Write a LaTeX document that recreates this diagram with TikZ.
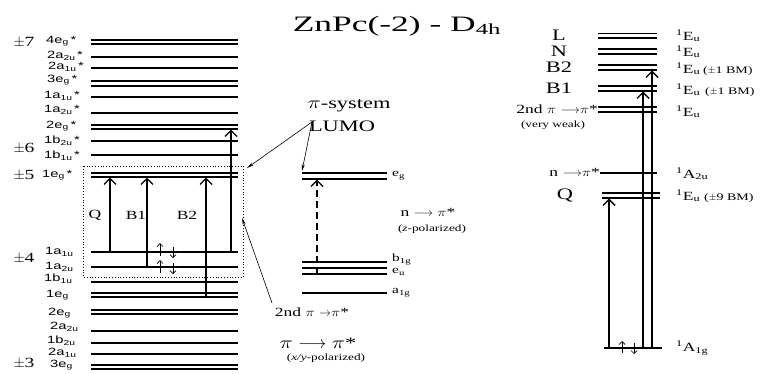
\documentclass[tikz,border=0pt]{standalone}
\usepackage{fontspec}
\setmainfont{Liberation Serif}[FakeStretch=1.4]
\setsansfont{Liberation Sans}[FakeStretch=1.4]
\usetikzlibrary{arrows.meta}
\newcommand{\ppi}{\scalebox{1.3}[1]{$\pi$}}
\begin{document}
\begin{tikzpicture}[x=1pt,y=-1pt,
 lvl/.style={line width=1.3pt},
 trans/.style={line width=1.8pt,-{Straight Barb[length=6pt,width=12pt,line width=1.4pt]}},
 dtrans/.style={trans,dash pattern=on 7pt off 4pt},
 spin/.style={line width=0.8pt,-{Straight Barb[length=3pt,width=6pt,line width=0.7pt]}},
 thin/.style={line width=0.6pt,-{Stealth[length=7pt,width=3pt]}},
 orb/.style={font=\sffamily\fontsize{10.5}{10.5}\selectfont,anchor=west,inner sep=0pt},
 pm/.style={font=\fontsize{14}{14}\selectfont,inner sep=0pt},
 mlab/.style={font=\fontsize{11}{11}\selectfont,anchor=west,inner sep=0pt},
 rlab/.style={font=\fontsize{12.5}{12.5}\selectfont,anchor=west,inner sep=0pt},
 big/.style={font=\fontsize{16}{16}\selectfont,inner sep=0pt},
 txt/.style={font=\fontsize{12.5}{12.5}\selectfont,inner sep=0pt},
 small/.style={font=\fontsize{9.5}{9.5}\selectfont,inner sep=0pt}
]
\useasboundingbox (0,0) rectangle (770,373);

% title
\node[inner sep=0pt] (title) at (397,26) {\scalebox{1.15}[1]{\fontsize{22}{22}\selectfont ZnPc(-2) - D\textsubscript{4h}}};

% ---------- left column levels ----------
\foreach \y in {40,44,57,68,81,86,97,113,125,129,141,155,173,177,252,267,282,293,297,310,314,331,343,354,365,369}
  \draw[lvl] (91,\y) -- (238,\y);

% dotted box
\draw[line width=0.8pt,dotted] (83,166) rectangle (243,277);
\coordinate (boxL) at (247,168);
\coordinate (boxR) at (242,218);

% left labels
\node[pm] (p7) at (24,43) {$\pm$7};
\node[pm] (p6) at (24,148) {$\pm$6};
\node[pm] (p5) at (24,176) {$\pm$5};
\node[pm] (p4) at (24,258) {$\pm$4};
\node[pm] (p3) at (24,363) {$\pm$3};

\node[orb] (o1) at (46,41) {4e\textsubscript{g}\,*};
\node[orb] (o2) at (47,56) {2a\textsubscript{2u}\,*};
\node[orb] (o3) at (48,67) {2a\textsubscript{1u}\,*};
\node[orb] (o4) at (47,80) {3e\textsubscript{g}\,*};
\node[orb] (o5) at (44,96) {1a\textsubscript{1u}\,*};
\node[orb] (o6) at (44,110) {1a\textsubscript{2u}\,*};
\node[orb] (o7) at (46,126) {2e\textsubscript{g}\,*};
\node[orb] (o8) at (44,141) {1b\textsubscript{2u}\,*};
\node[orb] (o9) at (44,156) {1b\textsubscript{1u}\,*};
\node[orb] (o10) at (42,175) {1e\textsubscript{g}\,*};
\node[orb] (o11) at (45,252) {1a\textsubscript{1u}};
\node[orb] (o12) at (45,267) {1a\textsubscript{2u}};
\node[orb] (o13) at (44,279) {1b\textsubscript{1u}};
\node[orb] (o14) at (46,295) {1e\textsubscript{g}};
\node[orb] (o15) at (48,313) {2e\textsubscript{g}};
\node[orb] (o16) at (50,327) {2a\textsubscript{2u}};
\node[orb] (o17) at (47,341) {1b\textsubscript{2u}};
\node[orb] (o18) at (48,353) {2a\textsubscript{1u}};
\node[orb] (o19) at (50,365) {3e\textsubscript{g}};

% left transitions
\coordinate (Qa) at (110,252); \coordinate (Qb) at (110,177.5);
\coordinate (B1a) at (147,267); \coordinate (B1b) at (147,177.5);
\coordinate (B2a) at (206,297); \coordinate (B2b) at (206,177.5);
\coordinate (Ta) at (231,252); \coordinate (Tb) at (231,129.5);
\draw[trans] (Qa) -- (Qb);
\draw[trans] (B1a) -- (B1b);
\draw[trans] (B2a) -- (B2b);
\draw[trans] (Ta) -- (Tb);
\node[txt] (lQ) at (95,215) {Q};
\node[txt] (lB1) at (136,215) {B1};
\node[txt] (lB2) at (187,215) {B2};

% spins
\draw[spin] (160,256) -- (160,243);
\draw[spin] (173,247) -- (173,258);
\draw[spin] (160,273) -- (160,260);
\draw[spin] (173,263) -- (173,274);

% ---------- middle column ----------
\foreach \y in {173,179,262,268,274,293}
  \draw[lvl] (302,\y) -- (387,\y);
\node[mlab] (eg) at (392,176) {e\textsubscript{g}};
\node[mlab] (b1g) at (392,259.5) {b\textsubscript{1g}};
\node[mlab] (eu) at (392,272) {e\textsubscript{u}};
\node[mlab] (a1g) at (392,293) {a\textsubscript{1g}};
\coordinate (Da) at (317,274); \coordinate (Db) at (317,179.5);
\draw[dtrans] (Da) -- (Db);

\node[big] (pis) at (349,106) {\ppi-system};
\node[big] (lumo) at (342,126) {LUMO};
\coordinate (lumoA) at (312,122);
\coordinate (egL) at (302,171);
\draw[thin] (lumoA) -- (boxL);
\draw[thin] (lumoA) -- (egL);

\node[txt] (nz) at (428,212) {n $\longrightarrow$ \ppi*};
\node[small] (zp) at (432,229) {(\textit{z}-polarized)};

\node[txt] (snd) at (312,312) {2nd \ppi\ $\rightarrow$\ppi*};
\coordinate (sndA) at (272,303);
\draw[thin] (sndA) -- (boxR);

\node[big] (pp) at (318,343) {\ppi\ $\longrightarrow$ \ppi*};
\node[small] (xy) at (326,358) {(\textit{x/y}-polarized)};

% ---------- right column ----------
\foreach \y in {33.5,38,49,54,65,70,86,91,107,112}
  \draw[lvl] (598,\y) -- (657,\y);
\draw[lvl] (600,173) -- (657,173);
\draw[lvl] (602,193) -- (660,193);
\draw[lvl] (602,198) -- (660,198);
\draw[lvl] (604,348) -- (662,348);

\node[big] (rL) at (559,35) {L};
\node[big] (rN) at (559,51) {N};
\node[big] (rB2) at (559,67) {B2};
\node[big] (rB1) at (559,88) {B1};
\node[txt,anchor=east] (r2nd) at (598,109) {2nd \ppi\ $\longrightarrow$\ppi*};
\node[small] (rvw) at (553,125) {(very weak)};
\node[txt,anchor=east] (rn) at (600,172) {n $\longrightarrow$\ppi*};
\node[big] (rQ) at (565,195) {Q};

\node[rlab] (s1) at (676,36) {\textsuperscript{1}E\textsubscript{u}};
\node[rlab] (s2) at (676,52) {\textsuperscript{1}E\textsubscript{u}};
\node[rlab] (s3) at (676,69) {\textsuperscript{1}E\textsubscript{u}\kern3pt{\fontsize{10}{10}\selectfont($\pm$1 BM)}};
\node[rlab] (s4) at (676,90) {\textsuperscript{1}E\textsubscript{u}\kern5pt{\fontsize{10}{10}\selectfont($\pm$1 BM)}};
\node[rlab] (s5) at (676,112) {\textsuperscript{1}E\textsubscript{u}};
\node[rlab] (s6) at (676,174) {\textsuperscript{1}A\textsubscript{2u}};
\node[rlab] (s7) at (676,196) {\textsuperscript{1}E\textsubscript{u}\kern4pt{\fontsize{10}{10}\selectfont($\pm$9 BM)}};
\node[rlab] (s8) at (676,348) {\textsuperscript{1}A\textsubscript{1g}};

\coordinate (RQa) at (609,348); \coordinate (RQb) at (609,198.5);
\coordinate (RB1a) at (643,348); \coordinate (RB1b) at (643,91.5);
\coordinate (RB2a) at (652,348); \coordinate (RB2b) at (652,70.5);
\draw[trans] (RQa) -- (RQb);
\draw[trans] (RB1a) -- (RB1b);
\draw[trans] (RB2a) -- (RB2b);
\draw[spin] (622,353) -- (622,341);
\draw[spin] (634,343) -- (634,354);
\end{tikzpicture}
\end{document}
